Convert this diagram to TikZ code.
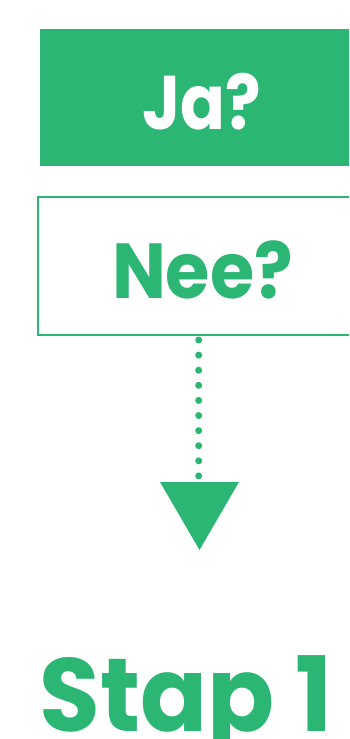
\documentclass[tikz,border=0pt]{standalone}
\usepackage{fontspec}
\setmainfont{Poppins}
\definecolor{brandgreen}{RGB}{44,182,115}
\tikzset{
  lbl/.style={inner sep=0pt, anchor=base, font=\bfseries},
  dotline/.style={brandgreen, line width=7pt, line cap=round, dash pattern=on 0pt off 15.1pt}
}
\begin{document}
\begin{tikzpicture}[x=1pt,y=1pt]
\useasboundingbox (0,0) rectangle (349,-739);
\clip (0,0) rectangle (349,-739);
% Ja box
\fill[brandgreen] (39.5,-29) rectangle (360,-166);
\node[lbl, text=white, font=\bfseries\fontsize{76}{76}\selectfont] (ja) at (202,-129) {\scalebox{0.87}[1]{Ja?}};
% Nee box
\draw[brandgreen, line width=2pt] (38,-197) rectangle (360,-334.5);
\node[lbl, text=brandgreen, font=\bfseries\fontsize{78}{78}\selectfont] (nee) at (202.5,-298) {\scalebox{0.92}[1]{Nee?}};
% connector
\coordinate (dstart) at (198.7,-340);
\coordinate (dend) at (198.7,-476);
\draw[dotline] (dstart) -- (dend);
\coordinate (tl) at (160,-482);
\coordinate (tr) at (239,-482);
\coordinate (tip) at (199.5,-550);
\fill[brandgreen] (tl) -- (tr) -- (tip) -- cycle;
% Stap 1
\node[lbl, text=brandgreen, font=\bfseries\fontsize{104}{104}\selectfont] (stap) at (186.5,-731) {\scalebox{0.95}[1]{Stap 1}};
\end{tikzpicture}
\end{document}
